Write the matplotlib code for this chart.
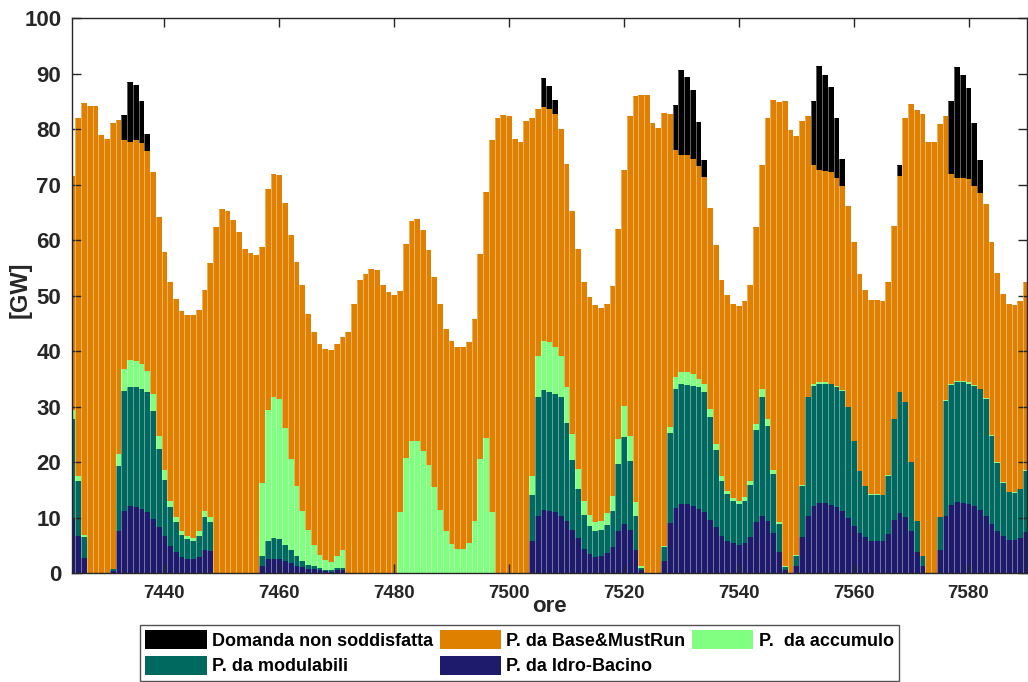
import numpy as np
import matplotlib.pyplot as plt
from matplotlib.patches import Patch

plt.rcParams['font.weight'] = 'bold'

ore = np.arange(7424, 7591)

# GW per fonte, un valore per ora (7424 ... 7590)
idro = [
    10.0, 6.8, 2.8, 0, 0, 0, 0, 0.5, 7.7, 11.3,
    12.1, 12.0, 11.6, 11.0, 9.8, 8.3, 6.8, 5.0, 3.8, 2.9,
    2.6, 2.6, 2.9, 4.3, 4.0, 0, 0, 0, 0, 0,
    0, 0, 0, 1.4, 2.6, 2.6, 2.6, 2.3, 1.9, 1.4,
    1.1, 0.8, 0.8, 0.7, 0.5, 0.3, 0.6, 0.7, 0, 0,
    0, 0, 0, 0, 0, 0, 0, 0, 0, 0,
    0, 0, 0, 0, 0, 0, 0, 0, 0, 0,
    0, 0, 0, 0, 0, 0, 0, 0, 0, 0,
    5.9, 10.3, 11.5, 11.2, 11.0, 10.3, 9.4, 7.9, 6.4, 4.4,
    3.5, 2.9, 3.2, 3.7, 4.7, 7.7, 8.9, 7.9, 4.3, 0.6,
    0, 0, 0, 2.2, 9.1, 11.8, 12.5, 12.5, 12.2, 11.6,
    11.0, 9.7, 8.3, 6.8, 5.9, 5.5, 5.2, 5.5, 6.5, 9.2,
    10.4, 9.4, 7.3, 3.8, 0.6, 0, 1.4, 6.5, 10.4, 12.2,
    12.7, 12.7, 12.4, 12.0, 11.3, 10.0, 8.6, 7.3, 6.5, 5.9,
    5.9, 5.9, 7.1, 9.6, 10.9, 10.1, 7.7, 3.8, 1.4, 0,
    0, 4.3, 10.4, 12.4, 12.8, 12.7, 12.6, 12.1, 11.5, 10.3,
    8.9, 7.7, 6.7, 6.1, 6.0, 6.4, 7.4,
]
modulabili = [
    17.8, 9.9, 3.7, 0, 0, 0, 0, 0.3, 11.7, 21.6,
    21.5, 21.5, 21.6, 21.6, 19.5, 14.1, 10.1, 6.9, 5.4, 4.1,
    3.6, 3.2, 3.9, 5.8, 5.2, 0, 0, 0, 0, 0,
    0, 0, 0, 1.8, 3.2, 3.8, 3.6, 2.9, 2.4, 1.7,
    1.2, 0.8, 0.5, 0.3, 0.2, 0.3, 0.3, 0.3, 0, 0,
    0, 0, 0, 0, 0, 0, 0, 0, 0, 0,
    0, 0, 0, 0, 0, 0, 0, 0, 0, 0,
    0, 0, 0, 0, 0, 0, 0, 0, 0, 0,
    8.3, 21.4, 21.5, 21.5, 21.4, 21.4, 17.7, 12.6, 8.8, 6.2,
    5.0, 4.7, 4.7, 5.1, 6.6, 12.0, 15.6, 12.3, 6.1, 0.4,
    0, 0, 0, 2.5, 16.2, 21.5, 21.6, 21.4, 21.6, 21.9,
    21.7, 18.5, 14.0, 9.9, 8.4, 7.6, 7.3, 7.6, 9.5, 16.7,
    21.4, 17.2, 10.6, 5.1, 0.6, 0, 1.8, 9.3, 21.3, 21.6,
    21.5, 21.5, 21.7, 21.6, 21.6, 19.9, 15.2, 11.1, 9.2, 8.2,
    8.2, 8.2, 10.5, 18.2, 21.7, 20.7, 12.3, 5.6, 1.7, 0,
    0, 5.8, 20.7, 21.5, 21.6, 21.7, 21.6, 21.7, 21.7, 21.2,
    15.9, 12.2, 9.6, 8.5, 8.5, 8.8, 11.1,
]
accumulo = [
    1.6, 0.9, 0.5, 0, 0, 0, 0, 0, 2.1, 3.9,
    4.8, 4.8, 4.5, 3.9, 3.1, 2.3, 1.8, 1.2, 0.9, 0.7,
    0.6, 0.6, 0.9, 1.2, 0.9, 0, 0, 0, 0, 0,
    0, 0, 0, 13.1, 23.6, 25.4, 25.2, 21.0, 16.3, 12.6,
    8.9, 6.3, 3.9, 2.4, 1.8, 1.5, 2.2, 3.3, 0, 0,
    0, 0, 0, 0, 0, 0, 0, 11.0, 20.8, 23.8,
    23.9, 22.1, 19.6, 15.5, 11.5, 7.6, 5.3, 4.4, 4.4, 5.5,
    9.5, 20.6, 24.4, 11.0, 0, 0, 0, 0, 0, 0,
    3.3, 7.5, 8.9, 8.9, 8.4, 7.5, 6.4, 4.6, 3.6, 2.4,
    2.1, 1.6, 1.6, 2.1, 2.7, 4.5, 5.7, 4.6, 2.4, 0.3,
    0, 0, 0, 0.3, 1.0, 2.0, 2.2, 2.3, 2.1, 1.6,
    1.5, 1.4, 1.0, 0.8, 0.6, 0.5, 0.5, 0.6, 0.6, 1.0,
    1.4, 1.2, 0.8, 0.3, 0.1, 0, 0.2, 0.2, 0.1, 0.3,
    0.2, 0.2, 0.1, 0.2, 0.1, 0.1, 0.1, 0.1, 0.1, 0.2,
    0.2, 0.1, 0.1, 0.1, 0.1, 0.1, 0.1, 0.1, 0, 0,
    0, 0, 0.1, 0.2, 0.2, 0.2, 0.2, 0.2, 0.1, 0.1,
    0.1, 0.1, 0.1, 0.1, 0.1, 0.1, 0.1,
]
base_mustrun = [
    42.1, 64.4, 77.7, 84.2, 84.2, 78.9, 78.3, 80.3, 60.2, 41.3,
    39.3, 39.8, 39.8, 39.5, 39.9, 39.4, 39.1, 39.4, 39.3, 39.6,
    39.7, 40.1, 39.7, 39.7, 45.8, 62.4, 65.7, 65.3, 63.6, 61.5,
    58.5, 57.7, 57.3, 42.5, 39.9, 40.2, 40.3, 40.5, 40.3, 40.4,
    40.7, 38.9, 38.3, 38.0, 38.0, 38.1, 38.2, 38.2, 43.4, 48.5,
    52.8, 54.0, 54.9, 54.6, 51.9, 50.7, 50.1, 39.8, 38.6, 39.6,
    40.0, 39.7, 38.7, 37.9, 37.1, 36.5, 36.6, 36.4, 36.4, 36.2,
    36.3, 37.0, 44.3, 67.1, 82.0, 82.6, 82.4, 78.3, 77.7, 81.5,
    64.5, 44.4, 42.0, 42.1, 41.9, 40.8, 40.3, 40.1, 39.7, 39.5,
    39.2, 39.1, 38.3, 37.7, 37.8, 37.9, 42.5, 57.5, 73.2, 84.9,
    86.2, 81.1, 80.2, 77.9, 56.5, 40.9, 39.0, 39.1, 38.8, 38.2,
    37.1, 36.2, 35.8, 35.4, 35.2, 35.0, 35.2, 35.4, 35.3, 35.5,
    40.3, 54.2, 66.6, 75.6, 83.7, 79.8, 75.3, 65.5, 50.5, 39.4,
    38.2, 38.0, 38.1, 37.4, 36.7, 36.1, 35.8, 35.5, 35.2, 34.9,
    34.9, 34.9, 34.7, 34.6, 38.9, 51.1, 64.4, 74.0, 79.7, 77.7,
    77.6, 70.8, 51.2, 37.9, 36.6, 36.6, 36.6, 35.7, 35.2, 35.0,
    34.8, 34.1, 34.0, 33.9, 33.7, 33.8, 33.9,
]
# domanda non soddisfatta, solo nelle ore di punta
deficit_ore = {
    7433: 4.4, 7434: 10.8, 7435: 9.9, 7436: 7.5, 7437: 3.2,
    7506: 5.3, 7507: 4.1, 7508: 2.6,
    7529: 8.2, 7530: 15.3, 7531: 14.0, 7532: 12.4, 7533: 8.0, 7534: 3.1,
    7553: 11.6, 7554: 18.7, 7555: 17.3, 7556: 15.3, 7557: 10.8, 7558: 5.0,
    7568: 1.9,
    7577: 13.1, 7578: 19.9, 7579: 18.6, 7580: 16.4, 7581: 11.4, 7582: 6.0,
}
deficit = np.zeros(len(ore))
for h, v in deficit_ore.items():
    deficit[h - ore[0]] = v

nomi = ['Domanda non soddisfatta', 'P. da Base&MustRun', 'P.  da accumulo',
        'P. da modulabili', 'P. da Idro-Bacino']
colori = ['#000000', '#E08000', '#80FF80', '#00695F', '#1E1B6C']
scuro = '#262626'

fig = plt.figure(figsize=(10.28, 6.82), dpi=100)
ax = fig.add_axes([0.0705, 0.1591, 0.9290, 0.8145])

# impilate dal basso: idro, modulabili, accumulo, base, deficit
serie = [idro, modulabili, accumulo, base_mustrun, deficit]
col_serie = [colori[4], colori[3], colori[2], colori[1], colori[0]]
bottom = np.zeros(len(ore))
for s, c in zip(serie, col_serie):
    s = np.asarray(s, dtype=float)
    ax.bar(ore, s, bottom=bottom, width=1.0, color=c, linewidth=0)
    bottom += s

# sottili separatori chiari tra una barra e l'altra
sep = np.maximum(bottom[:-1], bottom[1:])
ax.vlines(ore[:-1] + 0.5, 0, sep, colors='white', alpha=0.4, linewidth=0.7)

ax.set_xlim(7424.0, 7590.26)
ax.set_ylim(0, 100)
ax.set_xticks(np.arange(7440, 7581, 20))
ax.set_yticks(np.arange(0, 101, 10))
ax.tick_params(direction='in', length=6.5, width=1, top=True, right=True,
               colors=scuro)
for lab in ax.get_yticklabels():
    lab.set_fontfamily(['Liberation Sans', 'DejaVu Sans'])
    lab.set_fontsize(16)
    lab.set_color(scuro)
for lab in ax.get_xticklabels():
    lab.set_fontfamily(['Liberation Sans', 'DejaVu Sans'])
    lab.set_fontsize(13.5)
    lab.set_color(scuro)
ax.tick_params(axis='x', pad=8)
ax.tick_params(axis='y', pad=8)
for sp in ax.spines.values():
    sp.set_color(scuro)
    sp.set_linewidth(1)

ax.set_ylabel('[GW]', fontsize=17, fontweight='bold', color=scuro,
              family=['Liberation Sans', 'DejaVu Sans'])
ax.yaxis.set_label_coords(-0.043, 0.51)
fig.text(549 / 1028, 1 - 606 / 682, 'ore', ha='center', va='center',
         fontsize=16, fontweight='bold', color=scuro,
         family=['Liberation Sans', 'DejaVu Sans'])

maniglie = [Patch(facecolor=c, edgecolor='none') for c in colori]
ordine = [0, 3, 1, 4, 2]
leg = fig.legend([maniglie[i] for i in ordine], [nomi[i] for i in ordine],
                 ncol=3, loc='upper left', bbox_to_anchor=(140 / 1028, 1 - 625 / 682),
                 borderaxespad=0, frameon=True, fancybox=False, edgecolor=scuro,
                 handlelength=3.4, handleheight=1.2, handletextpad=0.3,
                 columnspacing=0.35, labelspacing=0.35, borderpad=0.3,
                 prop={'family': ['Liberation Sans', 'DejaVu Sans'],
                       'weight': 'bold', 'size': 13})
leg.get_frame().set_linewidth(1)

fig.savefig('out.png', dpi=100)
